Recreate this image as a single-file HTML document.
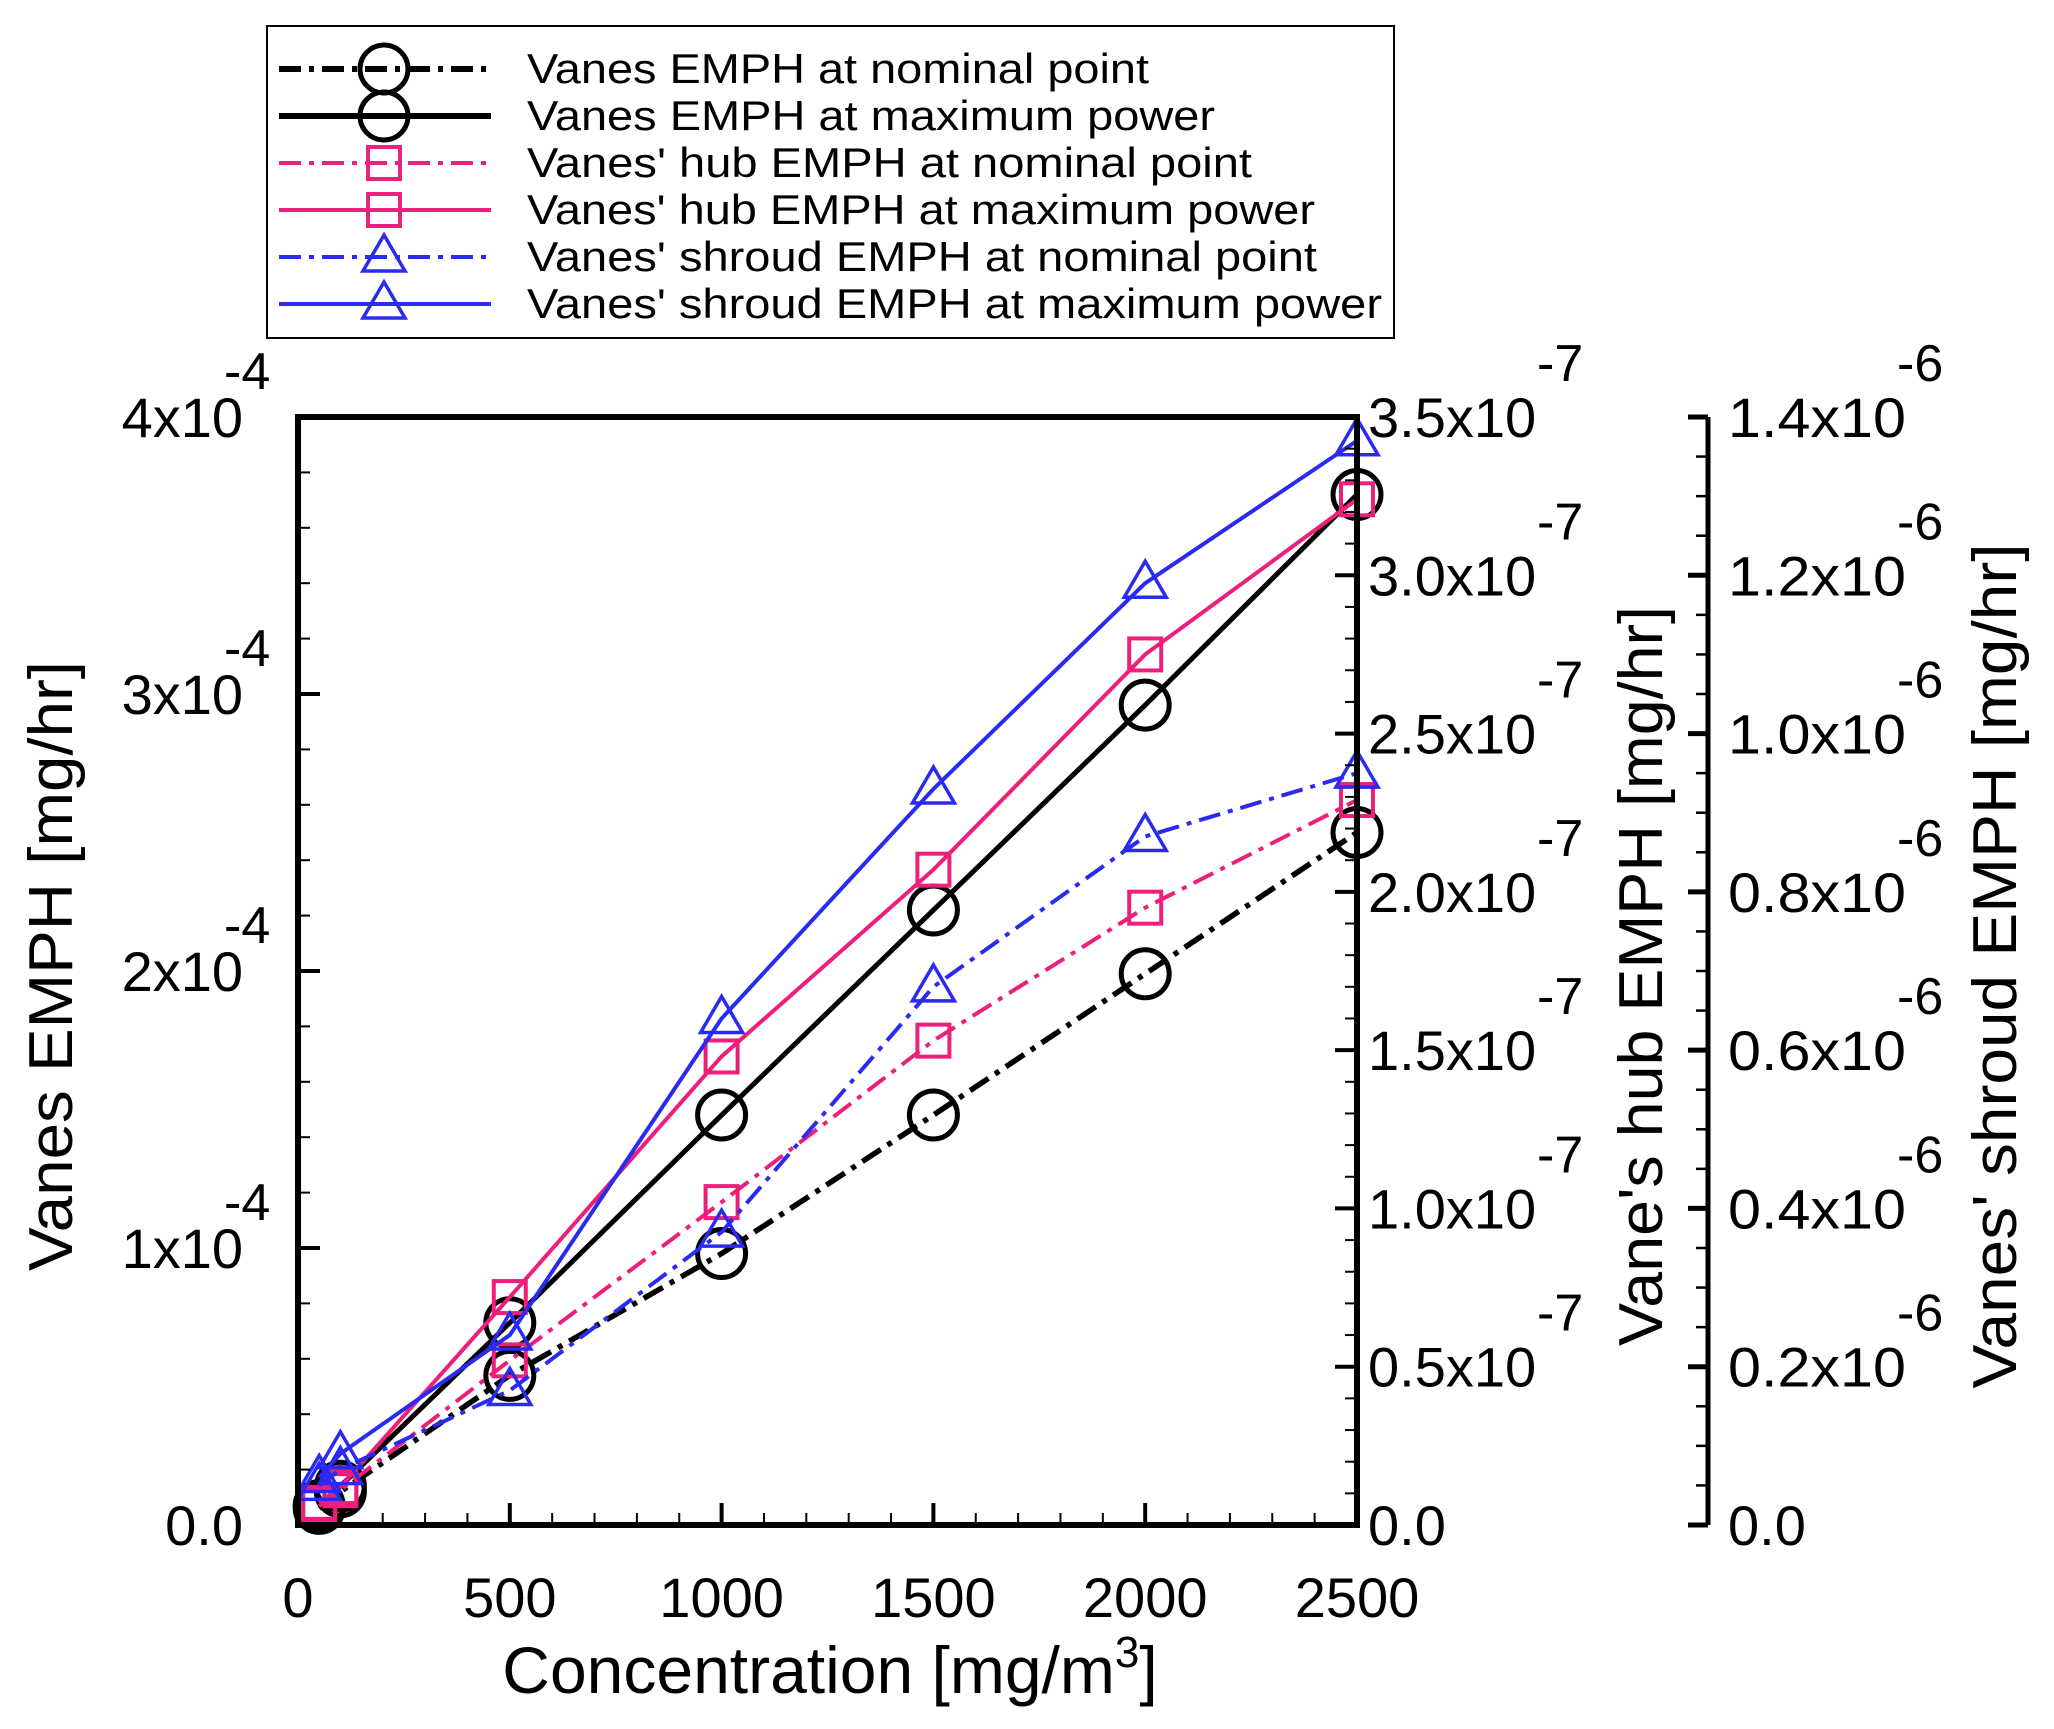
<!DOCTYPE html>
<html><head><meta charset="utf-8"><style>
html,body{margin:0;padding:0;background:#fff}
svg{display:block}
text{font-family:"Liberation Sans",sans-serif;fill:#000}
</style></head><body>
<svg id="chart" width="2054" height="1729" viewBox="0 0 2054 1729" xmlns="http://www.w3.org/2000/svg">
<g id="marks"></g>
<g id="axes"></g>
<g id="legend"></g>
</svg>
<script>
const xCats = [50, 100, 500, 1000, 1500, 2000, 2500];
const vanesNominal = [0.06, 0.12, 0.54, 0.98, 1.48, 1.99, 2.50];   // x1e-4
const vanesMax = [0.07, 0.14, 0.73, 1.48, 2.22, 2.96, 3.72];       // x1e-4
const hubNominal = [0.06, 0.11, 0.52, 1.02, 1.53, 1.95, 2.29];     // x1e-7
const hubMax = [0.07, 0.12, 0.72, 1.48, 2.07, 2.75, 3.24];         // x1e-7
const shroudNominal = [0.05, 0.07, 0.17, 0.37, 0.68, 0.87, 0.95];  // x1e-6
const shroudMax = [0.06, 0.09, 0.24, 0.64, 0.93, 1.19, 1.37];      // x1e-6
const xTicks = [0, 500, 1000, 1500, 2000, 2500];
const leftTicks = ["0.0", "1", "2", "3", "4"];
const hubTicks = ["0.0", "0.5", "1.0", "1.5", "2.0", "2.5", "3.0", "3.5"];
const shroudTicks = ["0.0", "0.2", "0.4", "0.6", "0.8", "1.0", "1.2", "1.4"];

const NS = "http://www.w3.org/2000/svg";
const X0 = 298, X1 = 1357, YB = 1525, YT = 417, XS = 1708;
const xs = v => X0 + (v / 2500) * (X1 - X0);
const yL = v => YB - (v / 4) * (YB - YT);
const yH = v => YB - (v / 3.5) * (YB - YT);
const yS = v => YB - (v / 1.4) * (YB - YT);
function mk(tag, attrs, parent) {
  const e = document.createElementNS(NS, tag);
  for (const k in attrs) e.setAttribute(k, attrs[k]);
  parent.appendChild(e);
  return e;
}
const marks = document.getElementById('marks');
const axes = document.getElementById('axes');
const legend = document.getElementById('legend');
const DASH = "22,8,5,8";

function marker(type, cx, cy, color, parent) {
  let m;
  if (type === 'circle') m = mk('circle', {cx: cx, cy: cy, r: 24, fill: 'none', stroke: color, 'stroke-width': 5}, parent);
  else if (type === 'square') m = mk('rect', {x: cx - 16, y: cy - 16, width: 32, height: 32, fill: 'none', stroke: color, 'stroke-width': 4}, parent);
  else m = mk('polygon', {points: `${cx},${cy - 22} ${cx - 21},${cy + 14} ${cx + 21},${cy + 14}`, fill: 'none', stroke: color, 'stroke-width': 3.5}, parent);
  return m;
}
function series(name, vals, yf, color, dashed, type, width) {
  const g = mk('g', {}, marks);
  
  
  const pts = vals.map((v, i) => xs(xCats[i]) + ',' + yf(v)).join(' ');
  const l = mk('polyline', {points: pts, fill: 'none', stroke: color, 'stroke-width': width}, g);
  if (dashed) l.setAttribute('stroke-dasharray', DASH);
  
  
  vals.forEach((v, i) => {
    const m = marker(type, xs(xCats[i]), yf(v), color, g);
    
    
  });
}
const PINK = '#ee1f7a', BLUE = '#2a2af0';
series('vanes-nominal', vanesNominal, yL, '#000', true, 'circle', 5.5);
series('vanes-max', vanesMax, yL, '#000', false, 'circle', 5);
series('hub-nominal', hubNominal, yH, PINK, true, 'square', 4);
series('hub-max', hubMax, yH, PINK, false, 'square', 4);
series('shroud-nominal', shroudNominal, yS, BLUE, true, 'triangle', 4);
series('shroud-max', shroudMax, yS, BLUE, false, 'triangle', 4);

const frame = mk('rect', {x: X0, y: YT, width: X1 - X0, height: YB - YT, fill: 'none', stroke: '#000', 'stroke-width': 6}, axes);


const sAx = mk('line', {x1: XS, y1: YT, x2: XS, y2: YB, stroke: '#000', 'stroke-width': 5}, axes);



for (let v = 0; v <= 2500; v += 100) {
  const major = v % 500 === 0;
  mk('line', {x1: xs(v), y1: YB, x2: xs(v), y2: YB - (major ? 22 : 12), stroke: '#000', 'stroke-width': major ? 4 : 2}, axes);
}
xTicks.forEach(v => {
  const t = mk('text', {x: xs(v), y: 1617, 'font-size': 56, 'text-anchor': 'middle'}, axes);
  t.textContent = v;
  
  
});
for (let v = 0; v <= 4.0001; v += 0.2) {
  const major = Math.abs(v - Math.round(v)) < 1e-6;
  mk('line', {x1: X0, y1: yL(v), x2: X0 + (major ? 22 : 12), y2: yL(v), stroke: '#000', 'stroke-width': major ? 4 : 2}, axes);
}
leftTicks.forEach((s, i) => {
  const y = yL(i);
  const t = mk('text', {x: 243, y: y + 20, 'font-size': 56, 'text-anchor': 'end'}, axes);
  
  
  if (i === 0) { t.textContent = s; }
  else {
    t.textContent = s + 'x10';
    const sp = mk('text', {x: 224, y: y - 28, 'font-size': 52}, axes);
    sp.textContent = '-4';
    
    
  }
});
for (let k = 0; k <= 35; k++) {
  const v = k / 10, major = k % 5 === 0;
  mk('line', {x1: X1, y1: yH(v), x2: X1 - (major ? 22 : 12), y2: yH(v), stroke: '#000', 'stroke-width': major ? 4 : 2}, axes);
}
hubTicks.forEach((s, i) => {
  const y = yH(i * 0.5);
  const t = mk('text', {x: 1368, y: y + 20, 'font-size': 56}, axes);
  t.textContent = i === 0 ? s : s + 'x10';
  
  
  if (i > 0) {
    const sp = mk('text', {x: 1537, y: y - 36, 'font-size': 52}, axes);
    sp.textContent = '-7';
    
    
  }
});
for (let k = 0; k <= 28; k++) {
  const v = k * 0.05, major = k % 4 === 0;
  mk('line', {x1: XS, y1: yS(v), x2: XS - (major ? 20 : 12), y2: yS(v), stroke: '#000', 'stroke-width': major ? 5 : 2.5}, axes);
}
shroudTicks.forEach((s, i) => {
  const y = yS(i * 0.2);
  const t = mk('text', {x: 1728, y: y + 20, 'font-size': 56, textLength: 178, lengthAdjust: 'spacingAndGlyphs'}, axes);
  t.textContent = i === 0 ? s : s + 'x10';
  if (i === 0) t.removeAttribute('textLength');
  
  
  if (i > 0) {
    const sp = mk('text', {x: 1897, y: y - 36, 'font-size': 52}, axes);
    sp.textContent = '-6';
    
    
  }
});
function title(txt, x, y, rot, size, len, name) {
  const t = mk('text', {x: x, y: y, 'font-size': size, 'text-anchor': 'middle', textLength: len, lengthAdjust: 'spacingAndGlyphs'}, axes);
  if (rot) t.setAttribute('transform', `rotate(-90 ${x} ${y})`);
  t.textContent = txt;
  
  
  return t;
}
const xt = title('', 830, 1693, false, 66, 646, 'x-axis-title');
xt.removeAttribute('textLength');
xt.innerHTML = 'Concentration [mg/m<tspan dy="-26" font-size="44">3</tspan><tspan dy="26">]</tspan>';
title('Vanes EMPH [mg/hr]', 72, 966, true, 62, 610, 'left-axis-title');
title("Vane's hub EMPH [mg/hr]", 1662, 976, true, 62, 740, 'hub-axis-title');
title("Vanes' shroud EMPH [mg/hr]", 2016, 966, true, 62, 845, 'shroud-axis-title');

const lb = mk('rect', {x: 267, y: 26, width: 1127, height: 312, fill: '#fff', stroke: '#000', 'stroke-width': 2}, legend);


const legItems = [
  ['Vanes EMPH at nominal point', '#000', true, 'circle', 622],
  ['Vanes EMPH at maximum power', '#000', false, 'circle', 688],
  ["Vanes' hub EMPH at nominal point", PINK, true, 'square', 725],
  ["Vanes' hub EMPH at maximum power", PINK, false, 'square', 788],
  ["Vanes' shroud EMPH at nominal point", BLUE, true, 'triangle', 790],
  ["Vanes' shroud EMPH at maximum power", BLUE, false, 'triangle', 855]
];
legItems.forEach((it, i) => {
  const y = 69 + i * 47;
  const g = mk('g', {}, legend);
  
  
  const l = mk('line', {x1: 279, y1: y, x2: 491, y2: y, stroke: it[1], 'stroke-width': i < 2 ? 6 : 4}, g);
  if (it[2]) l.setAttribute('stroke-dasharray', DASH);
  marker(it[3], 384, y, it[1], g);
  const t = mk('text', {x: 527, y: y + 14, 'font-size': 42, textLength: it[4], lengthAdjust: 'spacingAndGlyphs'}, g);
  t.textContent = it[0];
});
</script>
</body></html>
